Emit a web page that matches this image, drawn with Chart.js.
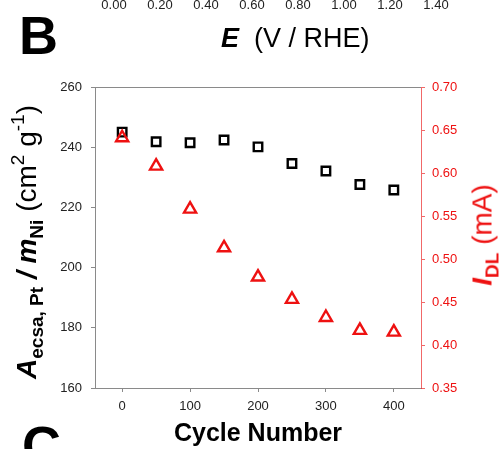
<!DOCTYPE html>
<html>
<head>
<meta charset="utf-8">
<script src="https://cdn.jsdelivr.net/npm/chart.js@4.4.1/dist/chart.umd.min.js"></script>
<style>
  body { margin: 0; background: #fff; font-family: "Liberation Sans", Arial, sans-serif; }
  #wrap { position: relative; width: 503px; height: 449px; overflow: hidden; background: #fff; }
  #chartBox { position: absolute; left: 0; top: 0; width: 503px; height: 449px; }
  .txt { position: absolute; white-space: nowrap; line-height: 1; }
  .panel { font-size: 54px; font-weight: bold; line-height: 54px; color: #000; }
  .rot { transform: translate(-50%, -50%) rotate(-90deg); font-size: 28px; line-height: 28px; }
  .sub { position: relative; top: 7px; font-size: 19px; }
  .sup { position: relative; top: -12px; font-size: 19px; }
</style>
</head>
<body>
<div id="wrap">
  <div id="chartBox"><canvas id="myChart"></canvas></div>
  <div id="topTicks"></div>
  <div class="txt panel" style="left:19px; top:8px;">B</div>
  <div class="txt" style="left:221px; top:25px; font-size:27px; line-height:27px; color:#000;"><b><i>E</i></b>&nbsp;&nbsp;(V / RHE)</div>
  <div class="txt panel" style="left:22px; top:418px;">C</div>
  <div class="txt rot" style="left:28px; top:242px; color:#000;"><b><i>A</i><span class="sub">ecsa, Pt</span> <i>/ m</i><span class="sub">Ni</span></b> (cm<span class="sup">2</span> g<span class="sup">-1</span>)</div>
  <div class="txt rot" style="left:484px; top:235px; color:#ee1111;"><b><i>I</i><span class="sub">DL</span></b> (mA)</div>
</div>
<script>
// Data
const cycles = [0, 50, 100, 150, 200, 250, 300, 350, 400];
const areaValues = [245.0, 241.8, 241.5, 242.4, 240.1, 234.6, 232.1, 227.6, 225.8];
const currentValues = [0.641, 0.608, 0.558, 0.513, 0.479, 0.453, 0.432, 0.417, 0.415];

// tick labels left over from the panel above
const topTickLabels = ['0.00', '0.20', '0.40', '0.60', '0.80', '1.00', '1.20', '1.40'];

const red = '#ee1111';

document.addEventListener('DOMContentLoaded', () => {
    let holder = document.getElementById('topTicks');
    topTickLabels.forEach((label, i) => {
        let d = document.createElement('div');
        d.className = 'txt';
        d.style.fontSize = '13px';
        d.style.lineHeight = '13px';
        d.style.color = '#222';
        d.style.top = '-2px';
        d.style.left = (114 + i * 46) + 'px';
        d.style.transform = 'translateX(-50%)';
        d.innerText = label;
        holder.appendChild(d);
    });

    drawChart();
});

// top frame line of the plot area
const topBorder = {
    id: 'topBorder',
    afterDraw(chart) {
        let a = chart.chartArea;
        let ctx = chart.ctx;
        ctx.save();
        ctx.strokeStyle = '#8a8a8a';
        ctx.lineWidth = 1;
        ctx.beginPath();
        ctx.moveTo(a.left, a.top + 0.5);
        ctx.lineTo(a.right, a.top + 0.5);
        ctx.stroke();
        ctx.restore();
    }
};

function drawChart() {
    let ctx = document.getElementById('myChart').getContext('2d');

    new Chart(ctx, {
        type: 'scatter',
        data: {
            datasets: [{
                label: 'Aecsa',
                data: cycles.map((c, i) => ({ x: c, y: areaValues[i] })),
                yAxisID: 'y',
                pointStyle: 'rect',
                pointRadius: 6,
                pointBorderWidth: 2.4,
                borderColor: '#000',
                backgroundColor: 'rgba(0,0,0,0)',
                order: 2
            }, {
                label: 'IDL',
                data: cycles.map((c, i) => ({ x: c, y: currentValues[i] })),
                yAxisID: 'y2',
                pointStyle: 'triangle',
                pointRadius: 7,
                pointBorderWidth: 2.4,
                borderColor: red,
                backgroundColor: 'rgba(0,0,0,0)',
                order: 1
            }]
        },
        options: {
            responsive: true,
            maintainAspectRatio: false,
            animation: false,
            layout: { padding: { top: 87, left: 0, right: 0, bottom: 0 } },
            plugins: { legend: { display: false }, tooltip: { enabled: false } },
            scales: {
                x: {
                    type: 'linear',
                    min: -40,
                    max: 440,
                    afterFit: s => { s.height = 61; },
                    border: { color: '#8a8a8a', width: 1 },
                    grid: { drawOnChartArea: false, tickLength: 4, color: '#8a8a8a' },
                    ticks: {
                        stepSize: 100,
                        includeBounds: false,
                        padding: 7,
                        color: '#222',
                        font: { family: 'Liberation Sans', size: 13 }
                    },
                    title: {
                        display: true,
                        text: 'Cycle Number',
                        color: '#000',
                        padding: { top: 0, bottom: 0 },
                        font: { family: 'Liberation Sans', size: 25, weight: 'bold' }
                    }
                },
                y: {
                    position: 'left',
                    min: 160,
                    max: 260,
                    afterFit: s => { s.width = 95; },
                    border: { color: '#8a8a8a', width: 1 },
                    grid: { drawOnChartArea: false, tickLength: 4, color: '#8a8a8a' },
                    ticks: {
                        stepSize: 20,
                        padding: 9,
                        color: '#222',
                        font: { family: 'Liberation Sans', size: 13 }
                    }
                },
                y2: {
                    position: 'right',
                    min: 0.35,
                    max: 0.70,
                    afterFit: s => { s.width = 82; },
                    border: { color: 'rgba(235,40,40,0.7)', width: 1 },
                    grid: { drawOnChartArea: false, tickLength: 4, color: 'rgba(235,40,40,0.7)' },
                    ticks: {
                        stepSize: 0.05,
                        padding: 7,
                        color: red,
                        font: { family: 'Liberation Sans', size: 13 },
                        callback: v => v.toFixed(2)
                    }
                }
            }
        },
        plugins: [topBorder]
    });
}
</script>
</body>
</html>
